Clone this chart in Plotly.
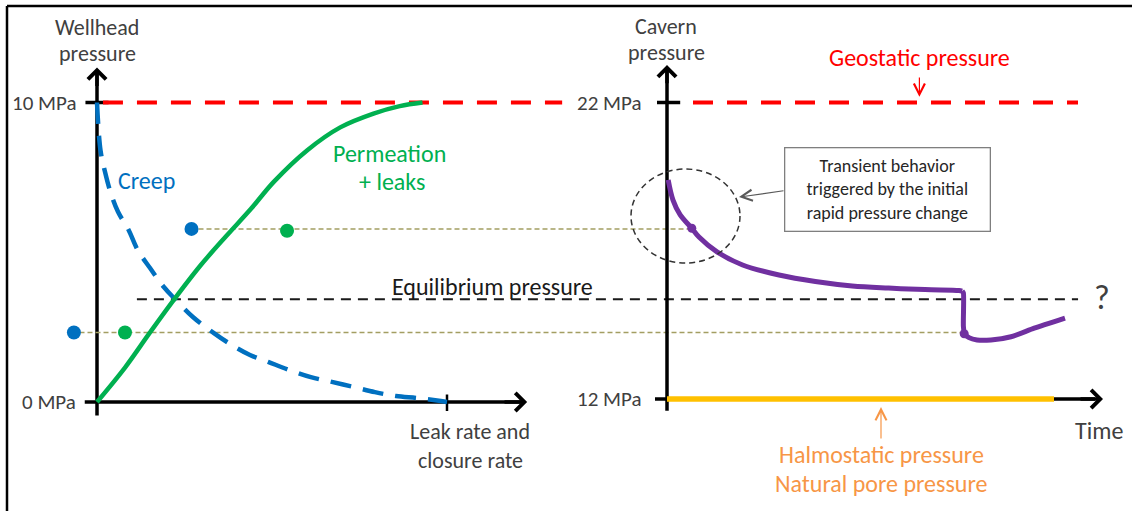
import plotly.graph_objects as go

# ---------------- data ----------------
# Left panel: wellhead pressure (MPa) vs leak / closure rate (arbitrary units, tick at 10)
creep_rate = [0, 0.1, 0.23, 0.39, 0.6, 0.9, 1.16, 1.51, 1.91, 2.2, 2.74, 3.34, 3.76, 4.37,
              4.89, 5.49, 6.11, 6.71, 7.34, 7.94, 8.54, 9.17, 9.77, 10.0]
creep_p = [10, 8.4, 7.68, 6.99, 6.35, 5.75, 5.08, 4.48, 3.84, 3.47, 2.84, 2.3, 1.97, 1.57,
           1.34, 1.07, 0.83, 0.67, 0.5, 0.33, 0.2, 0.13, 0.04, 0]
perm_rate = [0, 0.8, 1.5, 2.2, 2.95, 3.7, 4.4, 5.05, 6.0, 6.95, 7.9, 8.65, 9.3]
perm_p = [0, 1.15, 2.3, 3.42, 4.55, 5.55, 6.45, 7.35, 8.4, 9.17, 9.63, 9.88, 10.0]
blue_dots_rate = [-0.66, 2.7]
blue_dots_p = [2.32, 5.78]
green_dots_rate = [0.8, 5.43]
green_dots_p = [2.32, 5.72]

geostatic_wellhead = 10.0      # MPa (22 MPa cavern)
equilibrium_wellhead = 3.43    # MPa
level_high = 5.78
level_low = 2.32
left_ticks = [0, 10]
left_tick_labels = ["0 MPa", "10 MPa"]

# Right panel: cavern pressure (MPa) vs time (arbitrary units)
time_decay = [0.03, 0.15, 0.33, 0.62, 0.8, 1.25, 1.89, 2.8, 3.71, 4.63, 5.54, 6.45, 7.3, 7.38]
cavern_decay = [19.39, 18.71, 18.21, 17.76, 17.46, 16.96, 16.52, 16.18, 15.96, 15.81, 15.74,
                15.69, 15.66, 15.64]
time_drop = [7.38, 7.41, 7.41, 7.44, 7.55, 7.75, 8.1, 8.6, 9.18, 9.95]
cavern_drop = [15.64, 15.58, 14.45, 14.2, 14.07, 13.99, 13.99, 14.1, 14.39, 14.73]
purple_dots_t = [0.62, 7.43]
purple_dots_p = [17.76, 14.2]
halmostatic_p = 12.0
geostatic_p = 22.0
halmo_t_end = 9.675
right_ticks = [12, 22]
right_tick_labels = ["12 MPa", "22 MPa"]

FONT = "Carlito, Lato, sans-serif"
GRAY = "#404040"
BLUE = "#0070C0"
GREEN = "#00B050"
RED = "#FF0000"
PURPLE = "#7030A0"
ORANGE = "#F79646"
YELLOW = "#FFC000"
OLIVE = "#A39E62"

fig = go.Figure()

def L(x, y, **kw):
    fig.add_trace(go.Scatter(x=x, y=y, mode="lines", hoverinfo="skip", showlegend=False, **kw))

# ---- left axes (x/y) ----
L([0, 0], [-0.45, 11.0], line=dict(color="black", width=3.5))
L([-0.35, 12.1], [0, 0], line=dict(color="black", width=3.5))
L([-0.33, 0.33], [10, 10], line=dict(color="black", width=3.5))
L([10, 10], [-0.3, 0.25], line=dict(color="black", width=2.5))

# ---- right axes (x2/y2) ----
L([0, 0], [11.6, 23.1], line=dict(color="black", width=3.5), xaxis="x2", yaxis="y2")
L([-0.3, 10.7], [12, 12], line=dict(color="black", width=3.5), xaxis="x2", yaxis="y2")
L([-0.25, 0.33], [22, 22], line=dict(color="black", width=3.5), xaxis="x2", yaxis="y2")
L([0, halmo_t_end], [halmostatic_p, halmostatic_p], line=dict(color=YELLOW, width=5.5),
  xaxis="x2", yaxis="y2")

# ---- reference lines ----
L([0.17, 13.29], [geostatic_wellhead] * 2, line=dict(color=RED, width=4, dash="20px,14px"))
L([0.65, 10.275], [geostatic_p] * 2, line=dict(color=RED, width=4, dash="20px,14px"),
  xaxis="x2", yaxis="y2")
L([1.14, 28.03], [equilibrium_wellhead] * 2, line=dict(color="#1a1a1a", width=2, dash="10px,7px"))
L([2.9, 16.94], [level_high] * 2, line=dict(color=OLIVE, width=1.5, dash="5px,3px"))
L([-0.5, 24.77], [level_low] * 2, line=dict(color=OLIVE, width=1.5, dash="5px,3px"))

# ---- curves ----
L(creep_rate, creep_p, line=dict(color=BLUE, width=4.5, dash="21px,12px", shape="spline"))
L(perm_rate, perm_p, line=dict(color=GREEN, width=4.5, shape="spline"))
L(time_decay, cavern_decay, line=dict(color=PURPLE, width=5, shape="spline"),
  xaxis="x2", yaxis="y2")
L(time_drop, cavern_drop, line=dict(color=PURPLE, width=5, shape="spline", smoothing=0.6),
  xaxis="x2", yaxis="y2")

fig.add_trace(go.Scatter(x=blue_dots_rate, y=blue_dots_p, mode="markers", showlegend=False,
                         marker=dict(color=BLUE, size=14), hoverinfo="skip"))
fig.add_trace(go.Scatter(x=green_dots_rate, y=green_dots_p, mode="markers", showlegend=False,
                         marker=dict(color=GREEN, size=14), hoverinfo="skip"))
fig.add_trace(go.Scatter(x=purple_dots_t, y=purple_dots_p, mode="markers", showlegend=False,
                         marker=dict(color=PURPLE, size=9), hoverinfo="skip",
                         xaxis="x2", yaxis="y2"))

ann = []
def T(text, x, y, size, color=GRAY, xanchor="center", xref="x", yref="y", **kw):
    ann.append(dict(text=text, x=x, y=y, xref=xref, yref=yref, showarrow=False,
                    xanchor=xanchor, yanchor="middle",
                    font=dict(family=FONT, size=size, color=color), **kw))

def A(x, y, ax, ay, color, width, head, size, xref="x", yref="y"):
    ann.append(dict(text="", x=x, y=y, ax=ax, ay=ay, xref=xref, yref=yref,
                    axref=xref, ayref=yref, showarrow=True, arrowhead=head,
                    arrowsize=size, arrowwidth=width, arrowcolor=color, standoff=0))

# axis arrowheads
A(0, 11.17, 0, 10.5, "black", 3.5, 4, 1.0)
A(12.29, 0, 11.6, 0, "black", 3.5, 4, 1.0)
A(0, 23.265, 0, 22.6, "black", 3.5, 4, 1.0, "x2", "y2")
A(10.9, 12, 10.3, 12, "black", 3.5, 4, 1.0, "x2", "y2")

# left labels
T("Wellhead", 0, 12.52, 22)
T("pressure", 0, 11.65, 22)
for v, lab in zip(left_ticks, left_tick_labels):
    T(lab, -0.55, v, 21, xanchor="right")
T("Leak rate and", 10.66, -1.0, 22)
T("closure rate", 10.66, -1.94, 22)
T("Creep", 1.4, 7.38, 24, color=BLUE)
T("Permeation", 8.37, 8.3, 24, color=GREEN)
T("+ leaks", 8.42, 7.36, 24, color=GREEN)
T("Equilibrium pressure", 11.31, 3.84, 24, color="#1a1a1a")

# right labels
T("Cavern", -0.025, 24.55, 22, xref="x2", yref="y2")
T("pressure", -0.025, 23.67, 22, xref="x2", yref="y2")
for v, lab in zip(right_ticks, right_tick_labels):
    T(lab, -0.6, v, 21, xanchor="right", xref="x2", yref="y2")
T("Geostatic pressure", 6.31, 23.53, 24, color=RED, xref="x2", yref="y2")
A(6.31, 22.19, 6.31, 22.89, RED, 1.2, 5, 1.8, "x2", "y2")
T("?", 10.875, 15.44, 34, xref="x2", yref="y2")
T("Time", 10.8, 10.95, 24, xref="x2", yref="y2")
A(5.35, 11.73, 5.35, 10.62, ORANGE, 1.2, 5, 1.8, "x2", "y2")
T("Halmostatic pressure", 5.35, 10.145, 24, color=ORANGE, xref="x2", yref="y2")
T("Natural pore pressure", 5.35, 9.167, 24, color=ORANGE, xref="x2", yref="y2")
ann.append(dict(text="Transient behavior<br>triggered by the initial<br>rapid pressure change",
                x=5.5, y=19.05, xref="x2", yref="y2", showarrow=False,
                font=dict(family=FONT, size=18, color="#262626"),
                bordercolor="#7F7F7F", borderwidth=1.3, borderpad=2, bgcolor="white",
                width=200, height=78))
A(1.8, 18.81, 2.95, 19.03, "#595959", 1.2, 5, 1.8, "x2", "y2")

shapes = [
    dict(type="circle", xref="x2", yref="y2", x0=-0.9, x1=1.825, y0=16.587, y1=19.757,
         line=dict(color="#333333", width=1.5, dash="6px,4px")),
    dict(type="line", xref="paper", yref="paper", x0=7 / 1132, x1=7 / 1132, y0=0, y1=1 - 6 / 511,
         line=dict(color="black", width=2.5)),
    dict(type="line", xref="paper", yref="paper", x0=7 / 1132, x1=1.0, y0=1 - 6 / 511, y1=1 - 6 / 511,
         line=dict(color="black", width=2.5)),
]

fig.update_layout(
    width=1132, height=511, margin=dict(l=0, r=0, t=0, b=0),
    paper_bgcolor="white", plot_bgcolor="white",
    xaxis=dict(range=[-97 / 35, (1132 - 97) / 35], visible=False, fixedrange=True),
    yaxis=dict(range=[(402 - 511) / 29.95, 402 / 29.95], visible=False, fixedrange=True),
    xaxis2=dict(range=[-667 / 40, (1132 - 667) / 40], visible=False, overlaying="x",
                fixedrange=True),
    yaxis2=dict(range=[12 - 112 / 29.65, 12 + 399 / 29.65], visible=False, overlaying="y",
                fixedrange=True),
    annotations=ann, shapes=shapes, showlegend=False,
)

fig.write_html("out.html", config={"displayModeBar": False},
               post_script="document.body.style.margin='0';")
